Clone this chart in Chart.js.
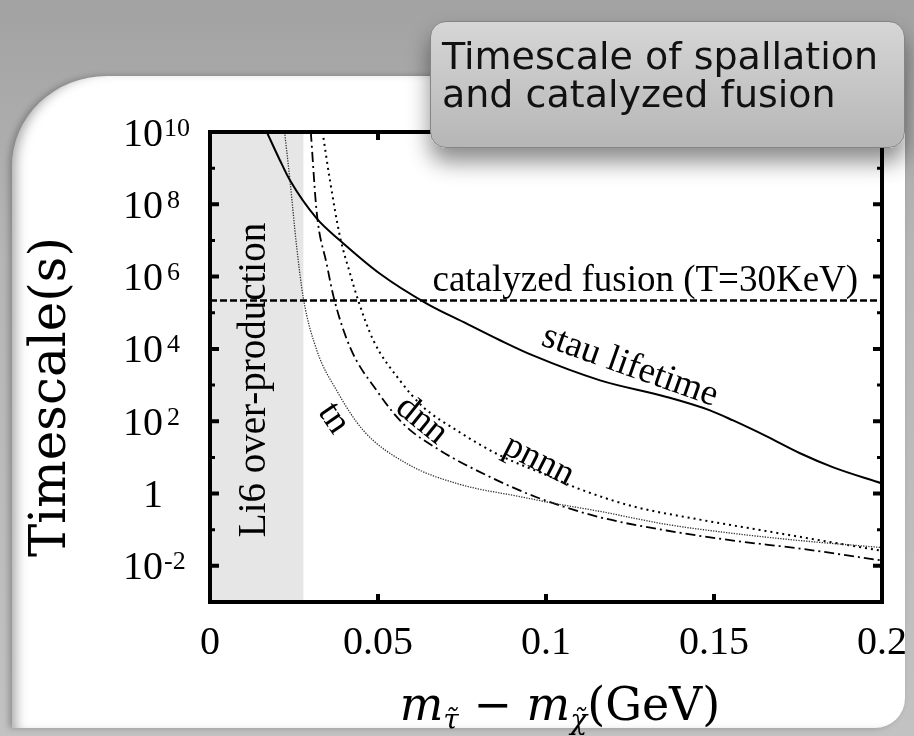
<!DOCTYPE html>
<html>
<head>
<meta charset="utf-8">
<script src="https://cdn.jsdelivr.net/npm/chart.js@4/dist/chart.umd.min.js"></script>
<style>
  html, body { margin: 0; padding: 0; }
  body {
    width: 914px; height: 736px; overflow: hidden; position: relative;
    background: linear-gradient(180deg, #a2a2a2 0%, #b6b6b6 35%, #c2c2c2 100%);
  }
  #panel {
    position: absolute; left: 12px; top: 76px; width: 893px; height: 652px;
    background: #fff;
    border-top-left-radius: 95px 90px; border-bottom-right-radius: 30px;
    box-shadow: inset 10px 0 12px -6px rgba(0,0,0,0.35), -3px 0 6px rgba(0,0,0,0.25);
  }
  #plot { position: absolute; left: 0; top: 0; }
  #note {
    position: absolute; left: 430px; top: 21px; width: 475px; height: 127px;
    box-sizing: border-box; border-radius: 16px; border: 1px solid #858585;
    background: linear-gradient(180deg, #d6d6d6 0%, #c6c6c6 50%, #b6b6b6 100%);
    box-shadow: 0 14px 22px rgba(0,0,0,0.45);
    font-family: "DejaVu Sans", sans-serif; font-size: 38px; line-height: 38px; color: #111;
    padding: 15px 0 0 11px; white-space: nowrap;
  }
</style>
</head>
<body>
<div id="panel"></div>
<canvas id="plot" width="914" height="736"></canvas>
<div id="note">Timescale of spallation<br>and catalyzed fusion</div>
<script>
// mass difference (GeV) vs timescale (s)
const stauX = [0.0169, 0.0208, 0.0238, 0.0318, 0.0387, 0.0506, 0.0645, 0.0764, 0.0863, 0.0961,
               0.1161, 0.1359, 0.1488, 0.1557, 0.1657, 0.1756, 0.1855, 0.2];
const stauY = [1e10, 1.66e9, 4.6e8, 4.0e7, 1.0e7, 1.2e6, 1.8e5, 5.0e4, 1.74e4, 6.6e3,
               1.35e3, 4.7e2, 2.0e2, 1.05e2, 38, 13, 5.3, 1.9];

const tnX = [0.0222, 0.0238, 0.0258, 0.0278, 0.0318, 0.0377, 0.0456, 0.0585, 0.0734, 0.0932,
             0.1012, 0.1161, 0.1359, 0.1557, 0.1756, 0.2];
const tnY = [1e10, 4.6e8, 6.6e6, 2.5e5, 9.1e3, 7.1e2, 56, 6.8, 1.9, 0.79,
             0.56, 0.32, 0.14, 0.079, 0.050, 0.032];

const dnnX = [0.0300, 0.0318, 0.0347, 0.0369, 0.0417, 0.0496, 0.0575, 0.0685, 0.0833, 0.0972,
              0.1161, 0.1359, 0.1557, 0.1756, 0.2];
const dnnY = [1e10, 5.5e7, 2.3e6, 2.5e5, 1.1e4, 7.1e2, 85, 15.5, 2.9, 0.79,
              0.22, 0.095, 0.050, 0.030, 0.014];

const pnnnX = [0.0335, 0.0357, 0.0387, 0.0417, 0.0441, 0.0486, 0.0565, 0.0635, 0.0734, 0.0853,
               0.1012, 0.1101, 0.1260, 0.1458, 0.1657, 0.2];
const pnnnY = [1e10, 4.6e8, 1.26e7, 1.2e6, 2.2e5, 1.74e4, 1.35e3, 2.45e2, 56, 12.6,
               2.95, 1.32, 0.44, 0.19, 0.091, 0.026];

const fusionX = [0, 0.2];
const fusionY = [2.2e5, 2.2e5];

const li6Limit = 0.0278;

const xTickValues = [0, 0.05, 0.1, 0.15, 0.2];
const xTickLabels = ['0', '0.05', '0.1', '0.15', '0.2'];
const yTickPowers = [10, 8, 6, 4, 2, 0, -2];

const toPoints = (xs, ys) => xs.map((x, i) => ({ x: x, y: ys[i] }));

const serif = '"Liberation Serif", "Times New Roman", serif';
const cmSerif = '"DejaVu Serif", serif';

// curve labels, placed in data coordinates
const curveLabels = [
  { text: 'stau lifetime', x: 0.125, y: 3.3e3, angle: 19.5 },
  { text: 'dnn', x: 0.0630, y: 1.05e2, angle: 39 },
  { text: 'pnnn', x: 0.0979, y: 8.1, angle: 27 },
  { text: 'tn', x: 0.0368, y: 1.2e2, angle: 56 },
];

const framePlugin = {
  id: 'frame',
  beforeDatasetsDraw(chart) {
    const { ctx, chartArea: a, scales: { x } } = chart;
    ctx.save();
    ctx.fillStyle = '#e6e6e6';
    ctx.fillRect(a.left, a.top, x.getPixelForValue(li6Limit) - a.left, a.bottom - a.top);
    ctx.restore();
  },
  afterDatasetsDraw(chart) {
    const { ctx, chartArea: a, scales: { x, y } } = chart;
    ctx.save();
    ctx.fillStyle = '#000';
    ctx.strokeStyle = '#000';

    // Li6 band label
    ctx.save();
    ctx.translate(265, 380);
    ctx.rotate(-Math.PI / 2);
    ctx.font = '39px ' + serif;
    ctx.textAlign = 'center';
    ctx.textBaseline = 'alphabetic';
    ctx.fillText('Li6 over-production', 0, 0);
    ctx.restore();

    // catalyzed fusion label
    ctx.font = '37px ' + serif;
    ctx.textAlign = 'right';
    ctx.textBaseline = 'alphabetic';
    ctx.fillText('catalyzed fusion (T=30KeV)', x.getPixelForValue(0.1929), y.getPixelForValue(fusionY[0]) - 9);

    // rotated curve labels
    ctx.font = '37px ' + serif;
    curveLabels.forEach(l => {
      ctx.save();
      ctx.translate(x.getPixelForValue(l.x), y.getPixelForValue(l.y));
      ctx.rotate(l.angle * Math.PI / 180);
      ctx.textAlign = 'center';
      ctx.textBaseline = 'middle';
      ctx.fillText(l.text, 0, 0);
      ctx.restore();
    });

    // frame
    ctx.lineWidth = 4;
    ctx.strokeRect(a.left, a.top, a.right - a.left, a.bottom - a.top);

    // inward ticks: every decade, longer on even powers
    for (let p = -2; p <= 9; p++) {
      const py = y.getPixelForValue(Math.pow(10, p));
      const len = p % 2 === 0 ? 9 : 5;
      ctx.lineWidth = p % 2 === 0 ? 4 : 3;
      ctx.beginPath();
      ctx.moveTo(a.left, py); ctx.lineTo(a.left + len, py);
      ctx.moveTo(a.right, py); ctx.lineTo(a.right - len, py);
      ctx.stroke();
    }
    ctx.lineWidth = 4;
    xTickValues.slice(1, -1).forEach(v => {
      const px = x.getPixelForValue(v);
      ctx.beginPath();
      ctx.moveTo(px, a.bottom); ctx.lineTo(px, a.bottom - 8);
      ctx.moveTo(px, a.top); ctx.lineTo(px, a.top + 8);
      ctx.stroke();
    });

    // y tick labels
    yTickPowers.forEach(p => {
      const py = y.getPixelForValue(Math.pow(10, p));
      ctx.textBaseline = 'alphabetic';
      ctx.textAlign = 'right';
      ctx.font = '40px ' + serif;
      if (p === 0) {
        ctx.fillText('1', 163, py + 13.5);
        return;
      }
      ctx.fillText('10', 163, py + 13.5);
      ctx.textAlign = 'left';
      ctx.font = '26px ' + serif;
      ctx.fillText(String(p), String(p).length > 1 ? 164 : 167, py + 3.5);
    });

    // x tick labels
    ctx.font = '40px ' + serif;
    ctx.textAlign = 'center';
    xTickValues.forEach((v, i) => {
      ctx.fillText(xTickLabels[i], x.getPixelForValue(v), 654);
    });

    // y axis title
    ctx.save();
    ctx.translate(52, 397);
    ctx.rotate(-Math.PI / 2);
    ctx.font = '50px ' + cmSerif;
    ctx.textAlign = 'center';
    ctx.textBaseline = 'middle';
    ctx.fillText('Timescale(s)', 0, 0);
    ctx.restore();

    // x axis title
    const parts = [
      { t: 'm', f: 'italic 46px ' + cmSerif, dy: 0 },
      { t: 'τ\u0303', f: 'italic 28px ' + cmSerif, dy: 9 },
      { t: ' \u2212 ', f: '46px ' + cmSerif, dy: 0 },
      { t: 'm', f: 'italic 46px ' + cmSerif, dy: 0 },
      { t: 'χ\u0303', f: 'italic 28px ' + cmSerif, dy: 9 },
      { t: '(GeV)', f: '46px ' + cmSerif, dy: 0 },
    ];
    let total = 0;
    parts.forEach(s => { ctx.font = s.f; s.w = ctx.measureText(s.t).width; total += s.w; });
    let cx = 560 - total / 2;
    ctx.textAlign = 'left';
    ctx.textBaseline = 'alphabetic';
    parts.forEach(s => {
      ctx.font = s.f;
      ctx.fillText(s.t, cx, 720 + s.dy);
      cx += s.w;
    });

    ctx.restore();
  }
};

const line = (data, width, dash) => ({
  data: data,
  showLine: true,
  borderColor: '#000',
  borderWidth: width,
  borderDash: dash,
  pointRadius: 0,
  cubicInterpolationMode: 'monotone',
});

new Chart(document.getElementById('plot'), {
  type: 'scatter',
  data: {
    datasets: [
      line(toPoints(fusionX, fusionY), 2.5, [7, 3]),
      line(toPoints(stauX, stauY), 2, []),
      Object.assign(line(toPoints(tnX, tnY), 1.3, [1.3, 1.3]), { borderColor: '#333' }),
      line(toPoints(dnnX, dnnY), 1.8, [10, 4, 2, 4]),
      line(toPoints(pnnnX, pnnnY), 2, [2, 4]),
    ],
  },
  options: {
    responsive: false,
    animation: false,
    devicePixelRatio: 1,
    layout: { padding: { left: 210, top: 132, right: 32, bottom: 134 } },
    scales: {
      x: { type: 'linear', display: false, min: 0, max: 0.2 },
      y: { type: 'logarithmic', display: false, min: 1e-3, max: 1e10 },
    },
    plugins: {
      legend: { display: false },
      tooltip: { enabled: false },
    },
  },
  plugins: [framePlugin],
});
</script>
</body>
</html>
